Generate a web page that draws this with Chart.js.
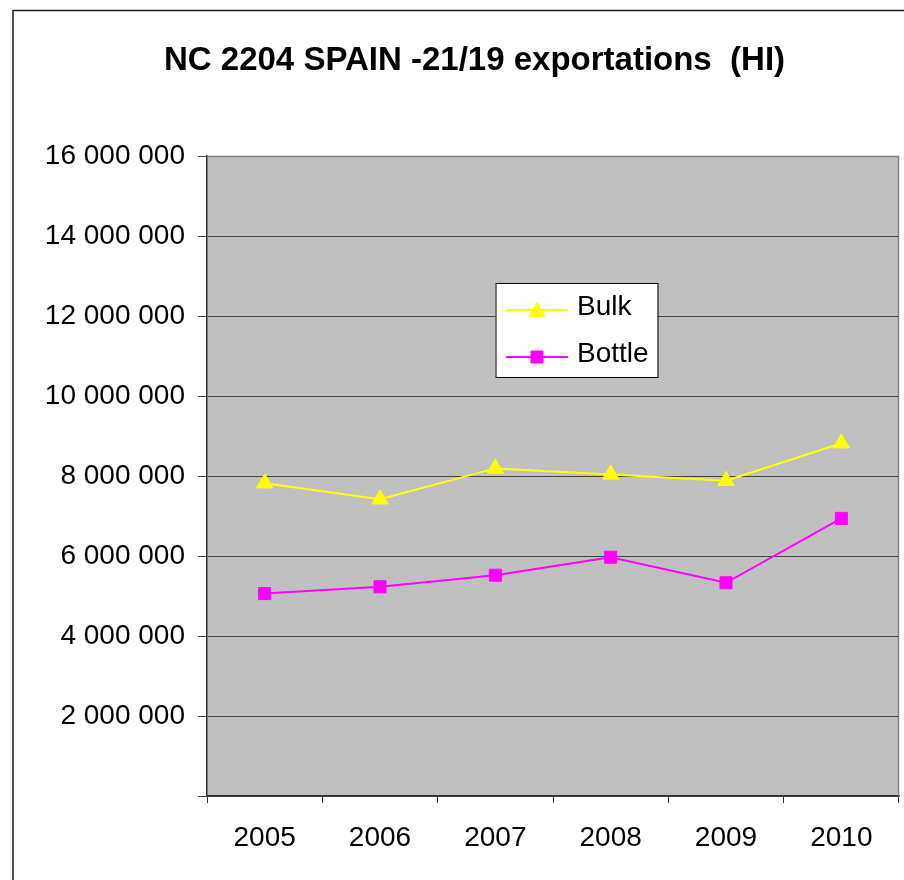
<!DOCTYPE html>
<html><head><meta charset="utf-8">
<script src="https://cdn.jsdelivr.net/npm/chart.js@4.4.1/dist/chart.umd.min.js"></script>
<style>html,body{margin:0;padding:0;background:#fff;overflow:hidden}canvas{display:block}</style>
</head><body>
<canvas id="c" width="904" height="880"></canvas>
<script>
const titleText = 'NC 2204 SPAIN -21/19 exportations  (HI)';
const years = ['2005', '2006', '2007', '2008', '2009', '2010'];
const bulkValues = [7820000, 7420000, 8190000, 8040000, 7880000, 8820000];
const bottleValues = [5060000, 5230000, 5520000, 5970000, 5330000, 6940000];
const seriesNames = ['Bulk', 'Bottle'];
const yMin = 0, yMax = 16000000, yStep = 2000000;

const FONT = "'Liberation Sans', Arial, Helvetica, sans-serif";

function fmt(v) {
  if (v === 0) return '';
  return String(v).replace(/\B(?=(\d{3})+(?!\d))/g, ' ');
}

const frame = {
  id: 'frame',
  afterLayout(chart) {
    // widen the label clip region of the y axis so long tick labels are not cut
    chart.scales.y.left = 14;
  },
  beforeDraw(chart) {
    const ctx = chart.ctx, a = chart.chartArea;
    ctx.save();
    ctx.fillStyle = '#fff';
    ctx.fillRect(0, 0, chart.width, chart.height);
    ctx.strokeStyle = '#1a1a1a';
    ctx.lineWidth = 1.5;
    ctx.strokeRect(13, 10.5, 2000, 2000);
    ctx.fillStyle = '#c0c0c0';
    ctx.fillRect(a.left, a.top, a.right - a.left, a.bottom - a.top);
    ctx.restore();
  },
  beforeDatasetsDraw(chart) {
    const ctx = chart.ctx, a = chart.chartArea;
    ctx.save();
    ctx.strokeStyle = '#808080';
    ctx.lineWidth = 1.5;
    ctx.beginPath();
    ctx.moveTo(a.left, a.top + 0.5);
    ctx.lineTo(a.right - 0.5, a.top + 0.5);
    ctx.lineTo(a.right - 0.5, a.bottom);
    ctx.stroke();
    ctx.restore();
  }
};

const boxLegend = {
  id: 'boxLegend',
  afterDraw(chart) {
    const ctx = chart.ctx;
    const x0 = 495.5, y0 = 283, w = 162, h = 94;
    ctx.save();
    ctx.fillStyle = '#fff';
    ctx.fillRect(x0, y0, w, h);
    ctx.strokeStyle = '#000';
    ctx.lineWidth = 1;
    ctx.strokeRect(x0 + 0.5, y0 + 0.5, w, h);
    const rows = [310, 357];
    chart.data.datasets.forEach((ds, i) => {
      const y = rows[i];
      ctx.strokeStyle = ds.borderColor;
      ctx.lineWidth = 2;
      ctx.beginPath();
      ctx.moveTo(506, y);
      ctx.lineTo(568, y);
      ctx.stroke();
      ctx.fillStyle = ds.backgroundColor;
      ctx.strokeStyle = ds.borderColor;
      ctx.lineWidth = 1;
      Chart.helpers.drawPoint(ctx, {pointStyle: ds.pointStyle, radius: ds.pointRadius, rotation: 0, borderWidth: 1}, 537, ds.pointStyle === 'triangle' ? y + 2 : y);
      ctx.fillStyle = '#000';
      ctx.font = '28px ' + FONT;
      ctx.textAlign = 'left';
      ctx.textBaseline = 'middle';
      ctx.fillText(ds.label, 577, y - 3);
    });
    ctx.restore();
  }
};

new Chart(document.getElementById('c'), {
  type: 'line',
  data: {
    labels: years,
    datasets: [
      {
        label: seriesNames[0], data: bulkValues,
        borderColor: '#ffff00', backgroundColor: '#ffff00',
        borderWidth: 2, pointStyle: 'triangle', pointRadius: 9.5, pointBorderWidth: 1,
        tension: 0
      },
      {
        label: seriesNames[1], data: bottleValues,
        borderColor: '#ff00ff', backgroundColor: '#ff00ff',
        borderWidth: 2, pointStyle: 'rect', pointRadius: 8.5, pointBorderWidth: 1,
        tension: 0
      }
    ]
  },
  options: {
    responsive: false,
    animation: false,
    devicePixelRatio: 1,
    layout: { autoPadding: false, padding: { top: 0, left: 50, right: 5, bottom: 0 } },
    plugins: {
      legend: { display: false },
      tooltip: { enabled: false },
      title: {
        display: true,
        text: titleText,
        color: '#000',
        font: { family: FONT, size: 33, weight: 'bold', lineHeight: 1.2 },
        padding: { top: 41.6, bottom: 74.8 }
      }
    },
    scales: {
      x: {
        type: 'category',
        offset: true,
        grid: { offset: true, drawOnChartArea: false, drawTicks: true, tickLength: 7, color: '#333', lineWidth: 1 },
        border: { display: true, color: '#333', width: 1.5 },
        ticks: { color: '#000', font: { family: FONT, size: 28 }, padding: 18, maxRotation: 0, autoSkip: false },
        afterFit(s) { s.height = 84; s.paddingLeft = 0; s.paddingRight = 0; }
      },
      y: {
        min: yMin, max: yMax,
        grid: { color: '#454545', lineWidth: 1, tickLength: 9, drawTicks: true },
        border: { display: true, color: '#333', width: 1.5 },
        ticks: { stepSize: yStep, color: '#000', font: { family: FONT, size: 28 }, padding: 13, callback: (v) => fmt(v) },
        afterFit(s) { s.width = 157; s.paddingTop = 0; s.paddingBottom = 0; }
      }
    }
  },
  plugins: [frame, boxLegend]
});
</script>
</body></html>
